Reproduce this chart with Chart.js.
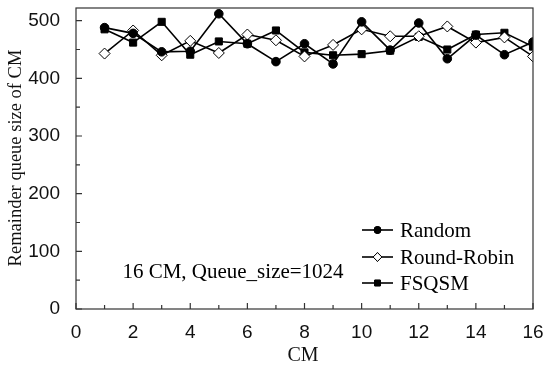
<!DOCTYPE html>
<html>
<head>
<meta charset="utf-8">
<script src="https://cdn.jsdelivr.net/npm/chart.js@4"></script>
<style>
  html, body { margin: 0; padding: 0; background: #fff; }
</style>
</head>
<body>
<canvas id="queue" width="550" height="378"></canvas>
<script>
// values
cmList = [1, 2, 3, 4, 5, 6, 7, 8, 9, 10, 11, 12, 13, 14, 15, 16];
randomQueue = [488, 478, 446, 447, 512, 460, 429, 460, 425, 498, 449, 496, 434, 475, 441, 463];
roundRobinQueue = [443, 483, 440, 465, 444, 476, 466, 438, 458, 485, 473, 473, 490, 462, 471, 438];
fsqsmQueue = [485, 462, 498, 441, 464, 460, 483, 445, 440, 442, 448, 472, 450, 476, 479, 455];
yTicks = [0, 100, 200, 300, 400, 500];
noteText = "16 CM, Queue_size=1024";
xTitle = "CM";
yTitle = "Remainder queue size of CM";

toPoints = (vals) => vals.map((v, i) => ({x: cmList[i], y: v}));

function buildDataSet(label, vals, style, radius, fill){
    return {
        label: label,
        data: toPoints(vals),
        borderColor: '#000',
        borderWidth: 1.6,
        pointStyle: style,
        pointRadius: radius,
        pointBackgroundColor: fill,
        pointBorderColor: '#000',
        pointBorderWidth: 1,
        tension: 0
    };
}

// inward ticks, box frame, axis titles, inside legend and the note
var framePlugin = {
    id: 'frame',
    afterDraw: function(chart){
        var ctx = chart.ctx, a = chart.chartArea;
        var xs = chart.scales.x, ys = chart.scales.y;
        ctx.save();
        ctx.strokeStyle = '#333';
        ctx.lineWidth = 1.2;
        ctx.strokeRect(a.left, a.top, a.right - a.left, a.bottom - a.top);
        ctx.beginPath();
        for (var i = 0; i <= 16; i++) {
            var px = xs.getPixelForValue(i);
            var len = i % 2 == 0 ? 6 : 4;
            ctx.moveTo(px, a.bottom);
            ctx.lineTo(px, a.bottom - len);
        }
        for (var v = 0; v <= 500; v += 50) {
            var py = ys.getPixelForValue(v);
            var len2 = v % 100 == 0 ? 6 : 4;
            ctx.moveTo(a.left, py);
            ctx.lineTo(a.left + len2, py);
        }
        ctx.stroke();

        ctx.fillStyle = '#111';
        ctx.textAlign = 'center';
        ctx.textBaseline = 'middle';
        ctx.font = '20px "Liberation Serif"';
        ctx.fillText(xTitle, 303, 356);
        ctx.save();
        ctx.translate(16, 158);
        ctx.rotate(-Math.PI / 2);
        ctx.font = '18.5px "Liberation Serif"';
        ctx.fillText(yTitle, 0, 0);
        ctx.restore();

        // legend
        ctx.textAlign = 'left';
        ctx.font = '21px "Liberation Serif"';
        var rows = [230, 257, 283];
        chart.data.datasets.forEach(function(ds, k){
            var y = rows[k];
            ctx.strokeStyle = '#000';
            ctx.lineWidth = 1.6;
            ctx.beginPath();
            ctx.moveTo(362, y);
            ctx.lineTo(393, y);
            ctx.stroke();
            ctx.lineWidth = 1;
            Chart.helpers.drawPoint(ctx, {
                pointStyle: ds.pointStyle,
                radius: ds.pointRadius * 0.8,
                borderWidth: 1
            }, 377.5, y);
            ctx.fillStyle = ds.pointBackgroundColor;
            ctx.fill();
            ctx.stroke();
            ctx.fillStyle = '#000';
            ctx.fillText(ds.label, 400, y + 1);
        });

        ctx.textAlign = 'center';
        ctx.font = '21px "Liberation Serif"';
        ctx.fillText(noteText, 233, 272);
        ctx.restore();
    }
};

document.addEventListener('DOMContentLoaded', function() {
    var ctx = document.getElementById('queue').getContext('2d');
    new Chart(ctx, {
        type: 'line',
        data: {
            datasets: [
                buildDataSet('Random', randomQueue, 'circle', 4.3, '#000'),
                buildDataSet('Round-Robin', roundRobinQueue, 'rectRot', 5.5, '#fff'),
                buildDataSet('FSQSM', fsqsmQueue, 'rect', 5, '#000')
            ]
        },
        plugins: [framePlugin],
        options: {
            responsive: false,
            animation: false,
            layout: { padding: { top: 5, right: 17, left: 0, bottom: 0 } },
            plugins: { legend: { display: false }, tooltip: { enabled: false } },
            scales: {
                x: {
                    type: 'linear',
                    min: 0,
                    max: 16,
                    grid: { display: false },
                    border: { display: false },
                    ticks: {
                        stepSize: 2,
                        color: '#111',
                        padding: 6,
                        font: { family: '"Liberation Sans"', size: 19, lineHeight: 1 }
                    },
                    afterFit: function(s){ s.height = 69; }
                },
                y: {
                    min: 0,
                    max: 522,
                    grid: { display: false },
                    border: { display: false },
                    afterBuildTicks: function(s){ s.ticks = yTicks.map(v => ({value: v})); },
                    ticks: {
                        color: '#111',
                        padding: 8,
                        font: { family: '"Liberation Sans"', size: 19, lineHeight: 0 }
                    },
                    afterFit: function(s){ s.width = 76; }
                }
            }
        }
    });
});
</script>
</body>
</html>
